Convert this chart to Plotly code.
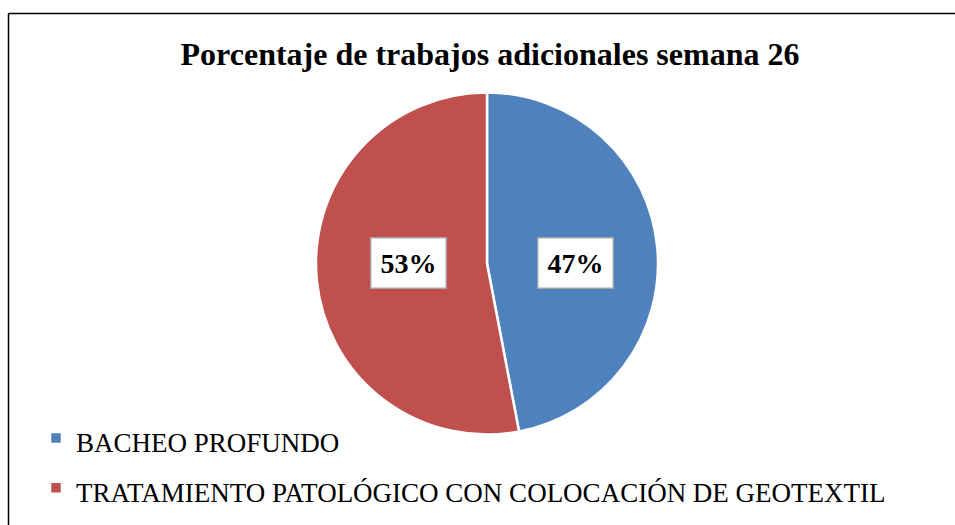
import math
import plotly.graph_objects as go

labels = ["BACHEO PROFUNDO", "TRATAMIENTO PATOLÓGICO CON COLOCACIÓN DE GEOTEXTIL"]
values = [47, 53]
colors = ["#4F81BD", "#C0504D"]
title_text = "Porcentaje de trabajos adicionales semana 26"

W, H = 955, 525
SERIF = "Liberation Serif, Times New Roman, serif"

# pie geometry (pixels)
cx, cy, r = 487, 263.5, 171
dom_x = [(cx - r) / W, (cx + r) / W]
dom_y = [1 - (cy + r) / H, 1 - (cy - r) / H]

fig = go.Figure(go.Pie(
    labels=[f'<span style="font-size:27px">{l}</span>' for l in labels],
    values=values,
    marker=dict(colors=colors, line=dict(color="white", width=2.5)),
    sort=False,
    direction="clockwise",
    rotation=0,
    textinfo="none",
    hoverinfo="label+percent",
    domain=dict(x=dom_x, y=dom_y),
))

# data labels computed from values
total = sum(values)
annotations = []
start = 0.0
for v in values:
    frac = v / total
    mid = (start + frac / 2) * 2 * math.pi
    start += frac
    px = cx + 5 + 0.49 * r * math.sin(mid)
    py = cy - 1
    annotations.append(dict(
        x=px / W, y=1 - py / H, xref="paper", yref="paper",
        text=f"<b>{round(frac * 100)}%</b>", showarrow=False,
        font=dict(family=SERIF, size=28, color="black"),
        bgcolor="white", bordercolor="#A6A6A6", borderwidth=1.5, borderpad=9,
    ))

fig.update_layout(
    width=W, height=H,
    margin=dict(l=0, r=0, t=0, b=0),
    paper_bgcolor="white",
    title=dict(text=f"<b>{title_text}</b>", x=490 / W, xanchor="center",
               y=1 - 54 / H, yanchor="middle",
               font=dict(family=SERIF, size=32, color="black")),
    showlegend=True,
    legend=dict(x=36 / W, y=1 - 408 / H, xanchor="left", yanchor="top",
                font=dict(family=SERIF, size=36, color="black"),
                bgcolor="rgba(0,0,0,0)", traceorder="normal"),
    annotations=annotations,
    shapes=[
        dict(type="line", xref="paper", yref="paper", x0=8.5 / W, x1=1.0,
             y0=1 - 13.5 / H, y1=1 - 13.5 / H, line=dict(color="black", width=1.5)),
        dict(type="line", xref="paper", yref="paper", x0=8.5 / W, x1=8.5 / W,
             y0=0, y1=1 - 13.5 / H, line=dict(color="black", width=1.5)),
    ],
)

fig.write_html(
    "out.html",
    config={"displayModeBar": False},
    post_script="document.body.style.margin='0';document.body.style.overflow='hidden';",
)
